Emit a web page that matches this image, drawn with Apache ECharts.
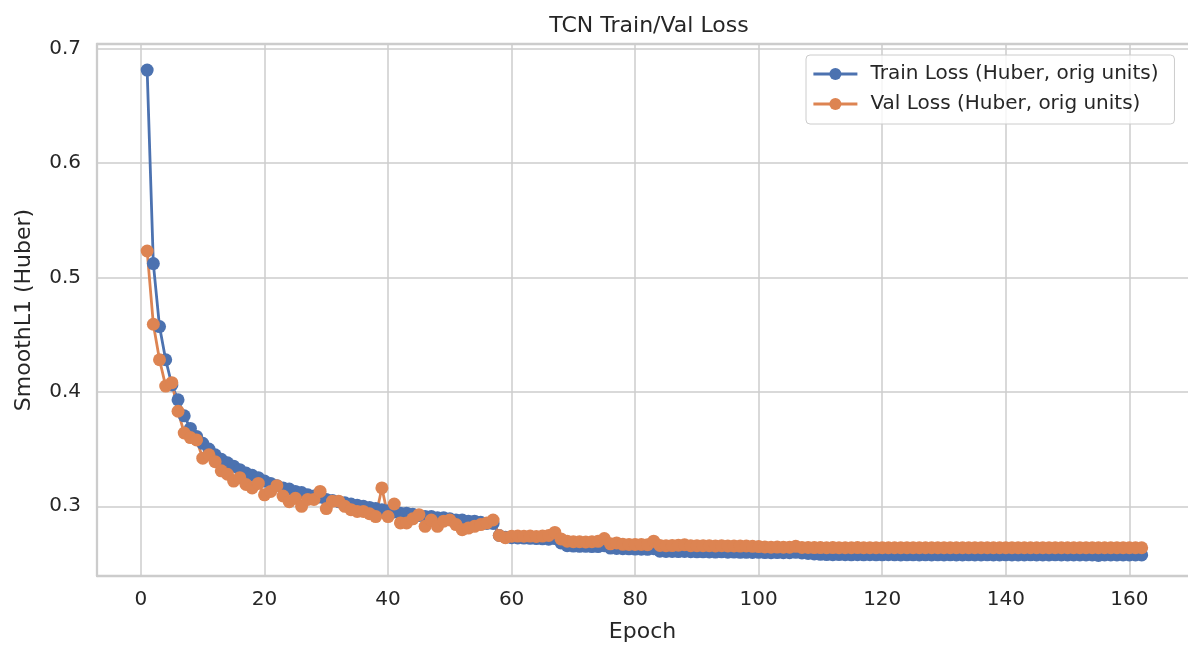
<!DOCTYPE html>
<html>
<head>
<meta charset="utf-8">
<script src="https://cdn.jsdelivr.net/npm/echarts@6/dist/echarts.min.js"></script>
<style>
html,body{margin:0;padding:0;background:#fff;}
#chart{width:1188px;height:649px;}
</style>
</head>
<body>
<div id="chart"></div>
<script>
const titleText = 'TCN Train/Val Loss';
const xName = 'Epoch';
const yName = 'SmoothL1 (Huber)';
const trainName = 'Train Loss (Huber, orig units)';
const valName = 'Val Loss (Huber, orig units)';
const xTicks = [0, 20, 40, 60, 80, 100, 120, 140, 160];
const yTicks = [0.3, 0.4, 0.5, 0.6, 0.7];

const trainLoss = [
  0.681, 0.512, 0.457, 0.428, 0.406, 0.393, 0.379, 0.368, 0.361, 0.355,
  0.350, 0.345, 0.341, 0.338, 0.335, 0.332, 0.329, 0.327, 0.325, 0.322,
  0.320, 0.318, 0.316, 0.315, 0.313, 0.312, 0.310, 0.309, 0.308, 0.306,
  0.305, 0.304, 0.303, 0.302, 0.301, 0.300, 0.299, 0.298, 0.297, 0.296,
  0.295, 0.294, 0.294, 0.293, 0.292, 0.291, 0.291, 0.290, 0.290, 0.289,
  0.288, 0.288, 0.287, 0.287, 0.286, 0.285, 0.285, 0.2745, 0.2730, 0.2725,
  0.2723, 0.2722, 0.2720, 0.2718, 0.2716, 0.2712, 0.2718, 0.2680, 0.2655, 0.2652,
  0.2650, 0.2650, 0.2648, 0.2648, 0.2655, 0.2635, 0.2632, 0.2630, 0.2628, 0.2626,
  0.2625, 0.2624, 0.2630, 0.2607, 0.2606, 0.2605, 0.2604, 0.2606, 0.2603, 0.2602,
  0.2602, 0.2601, 0.2600, 0.2602, 0.2599, 0.2600, 0.2598, 0.2598, 0.2597, 0.2598,
  0.2596, 0.2595, 0.2596, 0.2594, 0.2595, 0.2598, 0.2592, 0.2588, 0.2584, 0.2580,
  0.2578, 0.2577, 0.2578, 0.2577, 0.2576, 0.2577, 0.2576, 0.2577, 0.2576, 0.2576,
  0.2577, 0.2576, 0.2575, 0.2576, 0.2576, 0.2575, 0.2576, 0.2575, 0.2576, 0.2575,
  0.2576, 0.2575, 0.2575, 0.2576, 0.2575, 0.2575, 0.2576, 0.2575, 0.2575, 0.2576,
  0.2575, 0.2575, 0.2575, 0.2576, 0.2575, 0.2575, 0.2575, 0.2576, 0.2575, 0.2575,
  0.2575, 0.2575, 0.2575, 0.2575, 0.2570, 0.2575, 0.2575, 0.2575, 0.2575, 0.2575,
  0.2575, 0.2575
];

const valLoss = [
  0.523, 0.459, 0.428, 0.405, 0.408, 0.383, 0.364, 0.360, 0.358, 0.342,
  0.345, 0.339, 0.331, 0.328, 0.322, 0.325, 0.319, 0.316, 0.320, 0.310,
  0.313, 0.318, 0.309, 0.304, 0.307, 0.300, 0.306, 0.306, 0.313, 0.298,
  0.3045, 0.3045, 0.300, 0.297, 0.2955, 0.2955, 0.2935, 0.291, 0.316, 0.291,
  0.302, 0.2855, 0.2855, 0.289, 0.2927, 0.2825, 0.288, 0.2825, 0.287, 0.288,
  0.284, 0.2796, 0.281, 0.2825, 0.284, 0.2855, 0.288, 0.2745, 0.2725, 0.2738,
  0.2740, 0.2738, 0.2740, 0.2736, 0.2740, 0.2745, 0.2772, 0.2715, 0.2695, 0.2690,
  0.2690, 0.2688, 0.2690, 0.2694, 0.2718, 0.2672, 0.2680, 0.2668, 0.2666, 0.2666,
  0.2667, 0.2665, 0.2695, 0.2658, 0.2656, 0.2657, 0.2660, 0.2664, 0.2656, 0.2655,
  0.2656, 0.2655, 0.2654, 0.2656, 0.2653, 0.2654, 0.2652, 0.2653, 0.2650, 0.2648,
  0.2645, 0.2643, 0.2644, 0.2642, 0.2643, 0.2650, 0.2640, 0.2640, 0.2639, 0.2639,
  0.2638, 0.2639, 0.2638, 0.2638, 0.2638, 0.2639, 0.2638, 0.2638, 0.2638, 0.2638,
  0.2638, 0.2638, 0.2638, 0.2638, 0.2638, 0.2638, 0.2638, 0.2638, 0.2638, 0.2638,
  0.2638, 0.2638, 0.2638, 0.2638, 0.2638, 0.2638, 0.2638, 0.2638, 0.2638, 0.2638,
  0.2638, 0.2638, 0.2638, 0.2638, 0.2638, 0.2638, 0.2638, 0.2638, 0.2638, 0.2638,
  0.2638, 0.2638, 0.2638, 0.2638, 0.2638, 0.2638, 0.2638, 0.2638, 0.2638, 0.2638,
  0.2638, 0.2638
];

const epochs = trainLoss.map((_, i) => i + 1);
const toPairs = arr => arr.map((v, i) => [epochs[i], v]);

const textColor = '#262626';
const gridColor = '#cccccc';
const font = 'DejaVu Sans';

const chart = echarts.init(document.getElementById('chart'), null, {renderer: 'canvas'});
chart.setOption({
  animation: false,
  backgroundColor: '#ffffff',
  title: {
    text: titleText,
    left: 644,
    top: 10,
    textAlign: 'center',
    textStyle: {fontFamily: font, fontSize: 22, fontWeight: 'normal', color: textColor}
  },
  legend: {
    orient: 'vertical',
    left: 806,
    top: 55,
    padding: [8, 16, 9, 6],
    itemWidth: 44,
    itemHeight: 15,
    itemGap: 8,
    backgroundColor: 'rgba(255,255,255,0.8)',
    borderColor: gridColor,
    borderWidth: 1,
    borderRadius: 4,
    lineStyle: {width: 2.8},
    textStyle: {fontFamily: font, fontSize: 20, color: textColor, lineHeight: 22, padding: [0, 0, 0, 8]},
    data: [trainName, valName]
  },
  grid: {
    left: 97,
    right: 0,
    top: 44,
    bottom: 73,
    show: false
  },
  xAxis: [{
    type: 'value',
    min: -7.12,
    max: 169.5,
    name: xName,
    nameLocation: 'middle',
    nameGap: 45,
    nameTextStyle: {fontFamily: font, fontSize: 22, color: textColor},
    axisLine: {show: true, onZero: false, lineStyle: {color: gridColor, width: 2.3}},
    axisTick: {show: false, customValues: xTicks},
    axisLabel: {customValues: xTicks, margin: 14, fontFamily: font, fontSize: 20, color: textColor},
    splitLine: {show: true, lineStyle: {color: gridColor, width: 1.5}}
  }, {
    type: 'value',
    position: 'top',
    min: -7.12,
    max: 169.5,
    axisLine: {show: true, onZero: false, lineStyle: {color: gridColor, width: 2.3}},
    axisTick: {show: false},
    axisLabel: {show: false},
    splitLine: {show: false}
  }],
  yAxis: {
    type: 'value',
    min: 0.2391,
    max: 0.7038,
    name: yName,
    nameLocation: 'middle',
    nameGap: 62,
    nameTextStyle: {fontFamily: font, fontSize: 22, color: textColor},
    axisLine: {show: true, onZero: false, lineStyle: {color: gridColor, width: 2.3}},
    axisTick: {show: false, customValues: yTicks},
    axisLabel: {customValues: yTicks, margin: 16, fontFamily: font, fontSize: 20, color: textColor,
      formatter: v => v.toFixed(1)},
    splitLine: {show: true, lineStyle: {color: gridColor, width: 1.5}}
  },
  series: [
    {
      name: trainName,
      type: 'line',
      data: toPairs(trainLoss),
      symbol: 'circle',
      symbolSize: 13,
      showAllSymbol: true,
      color: '#4c72b0',
      lineStyle: {width: 2.8, color: '#4c72b0'},
      itemStyle: {color: '#4c72b0'}
    },
    {
      name: valName,
      type: 'line',
      data: toPairs(valLoss),
      symbol: 'circle',
      symbolSize: 13,
      showAllSymbol: true,
      color: '#dd8452',
      lineStyle: {width: 2.8, color: '#dd8452'},
      itemStyle: {color: '#dd8452'}
    }
  ]
});
</script>
</body>
</html>
